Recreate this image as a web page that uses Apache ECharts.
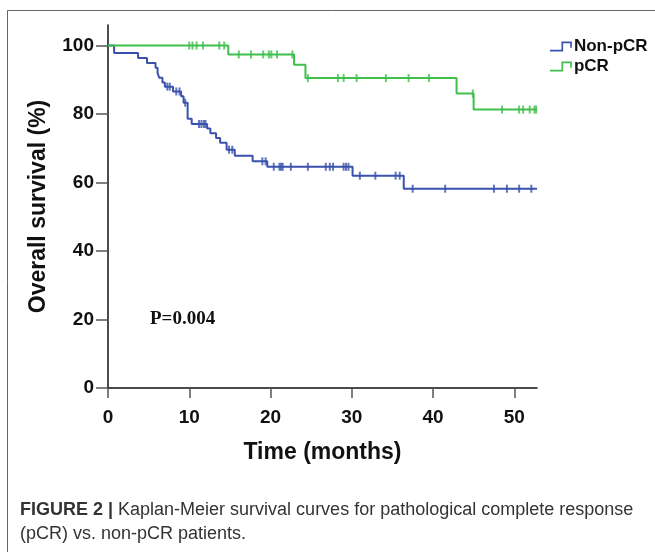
<!DOCTYPE html>
<html>
<head>
<meta charset="utf-8">
<script src="https://cdn.jsdelivr.net/npm/echarts@6/dist/echarts.min.js"></script>
<style>
  html, body { margin: 0; padding: 0; background: #fff; }
  #main { width: 655px; height: 552px; }
</style>
</head>
<body>
<div id="main"></div>
<script>
// tick labels
const xTicks = [0, 10, 20, 30, 40, 50];
const yTicks = [0, 20, 40, 60, 80, 100];
const followUpEnd = 52.8;

// Non-pCR: event times (months) and survival (%) after each step
const nonPcrTime = [0, 0.75, 3.7, 4.8, 5.85, 6.1, 6.3, 6.7, 7.0, 8.0, 9.0, 9.3, 9.8, 10.3, 12.2, 12.6, 13.3, 13.8, 14.6, 15.6, 17.8, 19.6, 30.1, 36.4];
const nonPcrSurv = [100, 97.8, 96.4, 94.9, 93.5, 92.0, 90.6, 89.2, 88.0, 86.6, 85.2, 83.3, 78.6, 77.1, 75.8, 74.4, 73.0, 71.6, 69.6, 67.8, 66.2, 64.6, 62.0, 58.2];
const nonPcrCensor = [7.3, 7.6, 8.4, 8.8, 9.5, 11.2, 11.5, 11.8, 12.0, 14.9, 15.3, 19.0, 19.4, 20.4, 21.1, 21.3, 21.5, 22.5, 24.6, 26.8, 27.3, 27.7, 29.0, 29.3, 29.6, 31.0, 32.9, 35.4, 35.9, 37.5, 41.5, 47.5, 49.1, 50.6, 52.1];

// pCR
const pcrTime = [0, 14.8, 22.9, 24.3, 42.9, 45.0];
const pcrSurv = [100, 97.4, 94.4, 90.5, 86.0, 81.3];
const pcrCensor = [10.0, 10.4, 10.9, 11.7, 13.7, 14.3, 16.1, 17.6, 19.1, 19.8, 20.1, 20.8, 22.7, 24.6, 28.3, 29.0, 30.6, 34.2, 37.0, 39.5, 44.9, 48.5, 50.6, 51.1, 51.9, 52.5, 52.7];

const blue = '#3a52ad';
const green = '#3fbf4c';

function stepData(times, surv) {
  const d = times.map((t, i) => [t, surv[i]]);
  d.push([followUpEnd, surv[surv.length - 1]]);
  return d;
}
// a censored case sits on the curve at the level in force at that time
function censorData(times, surv, cens) {
  return cens.map(c => {
    let k = 0;
    for (let i = 0; i < times.length; i++) if (times[i] <= c) k = i;
    return [c, surv[k]];
  });
}

const legendIcon = 'path://M0,8 L11,8 L11,0 L21,0 L21,6 L19.4,6 L19.4,1.6 L12.6,1.6 L12.6,9.6 L0,9.6 Z';

let option = {
  animation: false,
  grid: { left: 108, right: 118, top: 25, bottom: 164 },
  legend: {
    data: [
      { name: 'Non-pCR', icon: legendIcon },
      { name: 'pCR', icon: legendIcon }
    ],
    orient: 'vertical',
    left: 545,
    top: 33,
    itemWidth: 24,
    itemHeight: 10,
    itemGap: 3,
    textStyle: { fontFamily: 'Liberation Sans, Arial', fontWeight: 'bold', fontSize: 17, color: '#111', padding: [0, 0, 0, -4] }
  },
  xAxis: {
    type: 'value',
    min: 0,
    max: followUpEnd,
    name: 'Time (months)',
    nameLocation: 'middle',
    nameGap: 53,
    nameTextStyle: { fontFamily: 'Liberation Sans, Arial', fontWeight: 'bold', fontSize: 23, color: '#111' },
    axisLine: { lineStyle: { color: '#111', width: 1.5 } },
    axisTick: { customValues: xTicks, length: 10, lineStyle: { color: '#555', width: 1.5 } },
    axisLabel: { customValues: xTicks, margin: 20, fontFamily: 'Liberation Sans, Arial', fontWeight: 'bold', fontSize: 19, color: '#111' },
    splitLine: { show: false }
  },
  yAxis: {
    type: 'value',
    min: 0,
    max: 106,
    name: 'Overall survival (%)',
    nameLocation: 'middle',
    nameGap: 58,
    nameTextStyle: { fontFamily: 'Liberation Sans, Arial', fontWeight: 'bold', fontSize: 23, color: '#111' },
    axisLine: { show: true, lineStyle: { color: '#111', width: 1.5 } },
    axisTick: { show: true, customValues: yTicks, length: 12, lineStyle: { color: '#555', width: 1.5 } },
    axisLabel: { customValues: yTicks, margin: 14, fontFamily: 'Liberation Sans, Arial', fontWeight: 'bold', fontSize: 19, color: '#111' },
    splitLine: { show: false }
  },
  series: [
    {
      name: 'Non-pCR', type: 'line', step: 'end', showSymbol: false,
      data: stepData(nonPcrTime, nonPcrSurv),
      lineStyle: { color: blue, width: 2 }, itemStyle: { color: blue }
    },
    {
      name: 'pCR', type: 'line', step: 'end', showSymbol: false,
      data: stepData(pcrTime, pcrSurv),
      lineStyle: { color: green, width: 2 }, itemStyle: { color: green }
    },
    {
      name: 'Non-pCR censored', type: 'scatter', symbol: 'rect', symbolSize: [2, 8], silent: true,
      data: censorData(nonPcrTime, nonPcrSurv, nonPcrCensor), itemStyle: { color: blue }
    },
    {
      name: 'pCR censored', type: 'scatter', symbol: 'rect', symbolSize: [2, 8], silent: true,
      data: censorData(pcrTime, pcrSurv, pcrCensor), itemStyle: { color: green }
    }
  ],
  graphic: [
    { type: 'rect', shape: { x: 7.5, y: 10.5, width: 700, height: 600 }, style: { fill: 'none', stroke: '#666', lineWidth: 1 }, silent: true },
    { type: 'text', left: 150, top: 310, style: { text: 'P=0.004', font: 'bold 19px "Liberation Serif", "Times New Roman", serif', fill: '#111' } },
    {
      type: 'text', left: 20, top: 498,
      style: {
        text: '{b|FIGURE 2 |} Kaplan-Meier survival curves for pathological complete response\n(pCR) vs. non-pCR patients.',
        font: '18px "Liberation Sans", Arial, sans-serif',
        fill: '#333',
        lineHeight: 24,
        rich: { b: { fontWeight: 'bold', fontSize: 18, fill: '#333' } }
      }
    }
  ]
};

let myChart = echarts.init(document.getElementById('main'));
myChart.setOption(option);
</script>
</body>
</html>
